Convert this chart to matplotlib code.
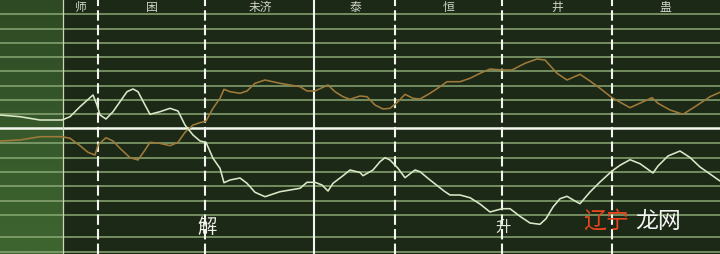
import numpy as np
import matplotlib
matplotlib.use("Agg")
import matplotlib.pyplot as plt
from matplotlib.colors import LinearSegmentedColormap

plt.rcParams['font.family'] = ['Noto Sans CJK SC', 'DejaVu Sans']

# ---- data (x = position along chart, y = level, top = 0) ----
white_x = [0, 20, 40, 62, 70, 80, 93, 97, 100, 106, 113, 120, 127, 133, 138, 145, 150, 160, 170, 178,
           185, 193, 200, 206, 213, 220, 224, 230, 240, 247, 255, 265, 280, 300, 307, 315, 322, 328, 333, 343,
           350, 360, 363, 373, 380, 385, 390, 398, 405, 415, 420, 430, 445, 450, 460, 470, 480, 490, 502, 510,
           520, 530, 540, 546, 553, 560, 567, 575, 580, 590, 600, 612, 620, 630, 640, 653, 658, 668, 680, 690,
           700, 710, 720]
white_y = [115, 116.7, 120, 120, 116.7, 106.7, 95, 105, 115, 119, 111.7, 101.7, 91.7, 89, 91.7, 105, 114.3, 111.7, 108.3, 111,
           125, 135, 141, 142.3, 158.3, 168.3, 182.7, 180, 178, 183.3, 192.3, 196.7, 191.7, 188.3, 182.3, 182.3, 185, 191, 183.3, 175.7,
           170, 172.5, 175.7, 170, 161.7, 157.7, 160, 168.3, 177.7, 170, 171.7, 180, 191.7, 195, 195, 197.7, 204, 212, 208.7, 208.7,
           216.3, 223, 224.3, 218.7, 207, 198.7, 196.3, 201, 203.7, 192, 182, 171, 165.3, 159.7, 163.7, 173, 166, 156, 151, 157.5,
           167, 174, 181]

orange_x = [0, 20, 40, 62, 70, 80, 88, 95, 98, 106, 113, 120, 130, 138, 145, 150, 160, 170, 178, 185,
            193, 200, 206, 213, 220, 224, 230, 240, 247, 255, 265, 280, 300, 307, 315, 328, 335, 343, 350, 360,
            367, 375, 383, 390, 398, 405, 413, 420, 430, 440, 447, 460, 470, 480, 490, 502, 512, 525, 537, 545,
            557, 567, 580, 590, 600, 612, 630, 652, 658, 670, 683, 695, 710, 720]
orange_y = [141, 140, 136.7, 136.7, 138.3, 145.7, 152.3, 155, 145, 137.7, 141, 148.3, 157.7, 160, 150, 142.3, 143.3, 145.7, 142.3, 132.3,
            125, 122.7, 121, 108.3, 98.3, 89.3, 91.7, 93.3, 91, 83.3, 80, 83.3, 86.7, 91, 91, 85, 91.7, 96.7, 99.3, 96,
            96.7, 105, 109, 108.3, 101.7, 94.3, 98.3, 99, 93.3, 86.7, 81.7, 81.7, 78.3, 73.3, 69, 70, 70, 63.3, 59, 60,
            73.3, 80, 74.3, 81, 88.3, 97.7, 107.7, 97.7, 103.3, 110, 114.3, 106.7, 96.7, 92.3]

header_labels = ['师', '困', '未济', '泰', '恒', '井', '蛊']
header_pos = [81, 152, 260, 355, 449, 557, 665]
dashed_bounds = [98, 205, 395, 502, 612]
solid_bounds = [314]
panel_edge = 62.5
grid_levels = [14.3, 29, 43, 57.3, 71.3, 85.5, 99.7, 114, 142.8, 157.5, 171.7, 186.2, 200.5, 214.5, 237, 252]
mid_level = 128.3
bottom_labels = ['解', '升']
bottom_pos = [207.5, 503]

W, H = 720, 254
fig = plt.figure(figsize=(7.2, 2.54), dpi=100)
ax = fig.add_axes([0, 0, 1, 1])
ax.set_xlim(0, W)
ax.set_ylim(H, 0)
ax.axis('off')
ax.add_patch(plt.Rectangle((0, 0), W, H, color='#1b2916', zorder=0))

# left lighter panel with gradient
cmap = LinearSegmentedColormap.from_list('lp', ['#2e4a24', '#36582b', '#3e6530'])
grad = np.linspace(0, 1, 100).reshape(-1, 1)
ax.imshow(grad, cmap=cmap, extent=[0, panel_edge, H, 0], aspect='auto', zorder=0.5)

for g in grid_levels:
    ax.axhline(g, color='#8aa874', lw=1.1, zorder=1)
ax.axhline(mid_level, color='#f4f8ee', lw=1.8, zorder=1.5)

ax.axvline(panel_edge, color='#c8d8b8', lw=0.9, zorder=2)
for s in solid_bounds:
    ax.axvline(s, color='#f4f4f0', lw=1.5, zorder=2)
for d in dashed_bounds:
    ax.axvline(d, color='#f4f4f0', lw=1.5, ls=(0, (5, 2)), zorder=2)

ax.plot(orange_x, orange_y, color='#a07a3a', lw=1.15, zorder=3)
ax.plot(white_x, white_y, color='#dbe8c8', lw=1.15, zorder=3)

for lab, xp in zip(header_labels, header_pos):
    ax.text(xp, 7.5, lab, color='#d0d4c8', fontsize=8.5, ha='center', va='center', zorder=4)

ax.text(bottom_pos[0], 227, bottom_labels[0], color='#f0f0ea', fontsize=14, ha='center', va='center', zorder=4)
ax.text(bottom_pos[1], 227.5, bottom_labels[1], color='#e8ece0', fontsize=11, ha='center', va='center', zorder=4)

ax.text(606, 221, '辽宁', color='#e8461e', fontsize=16.5, ha='center', va='center', zorder=4)
ax.text(658, 221, '龙网', color='#f4f4f4', fontsize=16.5, ha='center', va='center', zorder=4)

fig.savefig('out.png', dpi=100)
